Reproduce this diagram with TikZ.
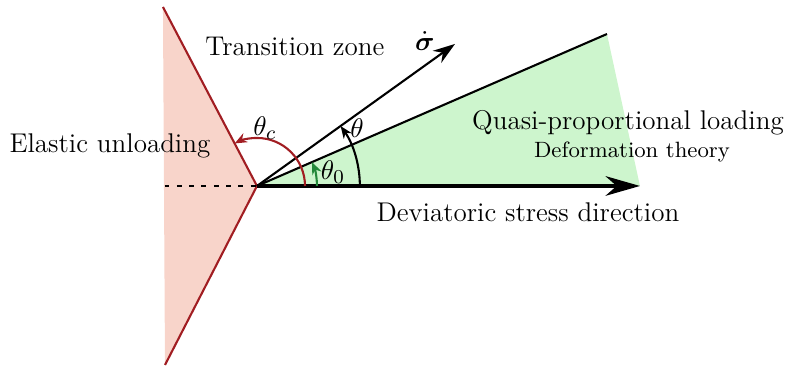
\documentclass[tikz,border=0pt]{standalone}
\usepackage{amsmath,amssymb,bm}
\usepackage{tikz}
\usetikzlibrary{arrows.meta, positioning, calc}
\definecolor{unload}{HTML}{A11D22}
\definecolor{unloadbg}{HTML}{F8D4CA}
\definecolor{loadbg}{HTML}{CDF5CD}
\definecolor{loadarc}{HTML}{23893A}

\begin{document}
\begin{tikzpicture}[x=1cm,y=1cm,font=\fontsize{11}{13}\selectfont]
      \useasboundingbox (-3.671,-2.614) rectangle (7.586,2.657);
      \coordinate (O) at (0,0);
      \coordinate (rtop) at (-1.343,2.557);
      \coordinate (rbot) at (-1.314,-2.557);
      \coordinate (gtop) at (5.0,2.171);
      \coordinate (dev) at (5.471,0);
      \coordinate (rate) at (2.829,2.029);
      \coordinate (dash) at (-1.32,0);

      % zones
      \fill[unloadbg] (rtop) -- (O) -- (rbot) -- cycle;
      \fill[loadbg] (O) -- (gtop) -- (dev) -- cycle;
      \draw[unload,line width=0.85pt] (rtop) -- (O) -- (rbot);
      \draw[line width=0.85pt,dash pattern=on 2pt off 3pt] (dash) -- (O);
      \draw[line width=0.85pt] (O) -- (gtop);

      % directions
      \draw[-{Stealth[length=9pt,width=6pt]},line width=0.85pt] (O) -- (rate);
      \draw[-{Stealth[length=14pt,width=8pt]},line width=1.3pt] (O) -- (dev);

      % angles
      \draw[loadarc,line width=0.85pt,-{Stealth[length=5pt,width=4pt]}] (O) ++(0.857,0) arc[start angle=0,end angle=23.5,radius=0.857];
      \draw[line width=0.85pt,-{Stealth[length=5pt,width=4pt]}] (O) ++(1.47,0) arc[start angle=0,end angle=35.6,radius=1.47];
      \draw[unload,line width=0.85pt,-{Stealth[length=5pt,width=4pt]}] (O) ++(0.686,0) arc[start angle=0,end angle=117.7,radius=0.686];

      \node (thc) at (0.114,0.829) {$\theta_c$};
      \node (th) at (1.43,0.83) {$\theta$};
      \node (th0) at (1.086,0.2) {$\theta_0$};

      % labels
      \node (trans) at (0.543,2.0) {Transition zone};
      \node[inner sep=1pt] (sig) at (2.4,2.07) {$\dot{\bm{\sigma}}$};
      \node (elast) at (-2.1,0.571) {Elastic unloading};
      \node (quasi) at (5.3,0.9) {Quasi-proportional loading};
      \node[font=\fontsize{9}{11}\selectfont] (deform) at (5.357,0.486) {Deformation theory};
      \node (devlab) at (3.871,-0.371) {Deviatoric stress direction};
\end{tikzpicture}
\end{document}
